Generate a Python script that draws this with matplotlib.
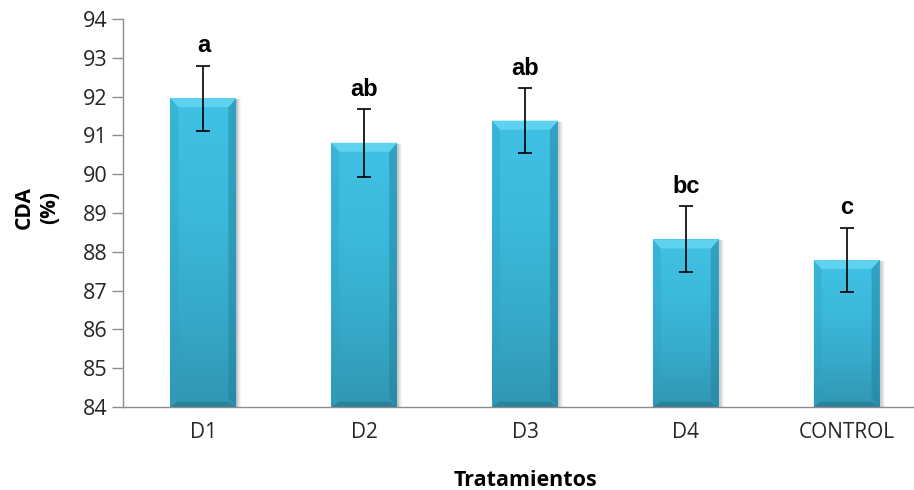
import numpy as np
import matplotlib
matplotlib.use("Agg")
import matplotlib.pyplot as plt
from matplotlib.colors import LinearSegmentedColormap
from matplotlib.patches import Polygon, Rectangle

# Data
treatments = ["D1", "D2", "D3", "D4", "CONTROL"]
cda_mean = [91.96, 90.81, 91.38, 88.32, 87.79]
cda_err = [0.84, 0.87, 0.84, 0.85, 0.83]
groups = ["a", "ab", "ab", "bc", "c"]
y_ticks = [84, 85, 86, 87, 88, 89, 90, 91, 92, 93, 94]

YMIN, YMAX = 84, 94
W, H, DPI = 9.14, 4.90, 100

fig = plt.figure(figsize=(W, H), dpi=DPI)
ax = fig.add_axes([123 / 914, 83 / 490, 804 / 914, 388 / 490])
ax.set_xlim(-0.5, len(treatments) - 0.5)
ax.set_ylim(YMIN, YMAX)

x = np.arange(len(treatments))
heights = np.array(cda_mean) - YMIN
bar_w = 0.41
bars = ax.bar(x, heights, bottom=YMIN, width=bar_w, color="none",
              edgecolor="none", zorder=3)

# pixel -> data conversion for the bevel geometry
ax_w_px = 804
ax_h_px = 388
px_x = (len(treatments)) / ax_w_px
px_y = (YMAX - YMIN) / ax_h_px

body_cmap = LinearSegmentedColormap.from_list(
    "body", ["#40c1e3", "#3cbadc", "#37abcb", "#3196b2"])

# top row = 0 (light), bottom row = 1 (dark)
grad = np.linspace(0, 1, 256).reshape(-1, 1)

for b in bars:
    x0 = b.get_x()
    x1 = x0 + b.get_width()
    y0 = b.get_y()
    y1 = y0 + b.get_height()
    bx = 8 * px_x
    by = 9 * px_y

    # soft drop shadow to the right
    for k, a in enumerate([0.10, 0.08, 0.06, 0.04]):
        off = (k + 1) * px_x
        ax.add_patch(Rectangle((x0 + 2 * px_x, y0), x1 - x0 + off - 1 * px_x,
                               y1 - y0 - 1 * px_y, facecolor="#404040",
                               edgecolor="none", alpha=a, zorder=2.5))

    # body gradient
    im = ax.imshow(grad, cmap=body_cmap, aspect="auto", origin="upper",
                   extent=(x0, x1, y0, y1), zorder=3, interpolation="bilinear")
    im.set_clip_path(b)

    # left bevel
    left = Polygon([(x0, y0), (x0, y1), (x0 + bx, y1 - by), (x0 + bx, y0 + by)],
                   closed=True, facecolor="#2f9fc0", edgecolor="none",
                   alpha=0.35, zorder=3.2)
    ax.add_patch(left)
    # right bevel
    right = Polygon([(x1, y0), (x1, y1), (x1 - bx, y1 - by), (x1 - bx, y0 + by)],
                    closed=True, facecolor="#1f7d99", edgecolor="none",
                    alpha=0.45, zorder=3.2)
    ax.add_patch(right)
    # top bevel
    top = Polygon([(x0, y1), (x1, y1), (x1 - bx, y1 - by), (x0 + bx, y1 - by)],
                  closed=True, facecolor="#5fd2f0", edgecolor="none",
                  zorder=3.3)
    ax.add_patch(top)
    # bottom bevel
    bot = Polygon([(x0, y0), (x1, y0), (x1 - bx, y0 + by * 0.6),
                   (x0 + bx, y0 + by * 0.6)],
                  closed=True, facecolor="#22728a", edgecolor="none",
                  alpha=0.5, zorder=3.3)
    ax.add_patch(bot)

# error bars
ax.errorbar(x, cda_mean, yerr=cda_err, fmt="none", ecolor="black",
            elinewidth=1.2, capsize=4.8, capthick=1.2, zorder=5)

# significance letters
for xi, m, e, g in zip(x, cda_mean, cda_err, groups):
    ax.annotate(g, (xi, m + e), xytext=(0, 6), textcoords="offset points",
                ha="center", va="bottom", fontsize=17, fontweight="bold",
                family="Liberation Sans", color="black", zorder=6)

# axes styling
for s in ["top", "right"]:
    ax.spines[s].set_visible(False)
for s in ["left", "bottom"]:
    ax.spines[s].set_color("#8c8c8c")
    ax.spines[s].set_linewidth(1.0)
    ax.spines[s].set_zorder(4)

ax.set_yticks(y_ticks)
ax.set_yticklabels([str(t) for t in y_ticks], fontsize=15.5, family="Open Sans",
                   color="#262626")
ax.tick_params(axis="y", direction="out", length=8, width=1.0,
               color="#8c8c8c", pad=3)
ax.set_xticks(x)
ax.set_xticklabels(treatments, fontsize=15, family="Open Sans",
                   color="#262626")
ax.tick_params(axis="x", length=0, pad=11)

ax.set_xlabel("Tratamientos", fontsize=15.5, fontweight="bold",
              family="Open Sans", labelpad=19)
fig.text(37 / 914, 1 - 208 / 490, "CDA\n(%)", rotation=90, ha="center",
         va="center", fontsize=15, fontweight="bold", family="Open Sans",
         linespacing=1.25, multialignment="center")

fig.savefig("out.png", dpi=DPI)
